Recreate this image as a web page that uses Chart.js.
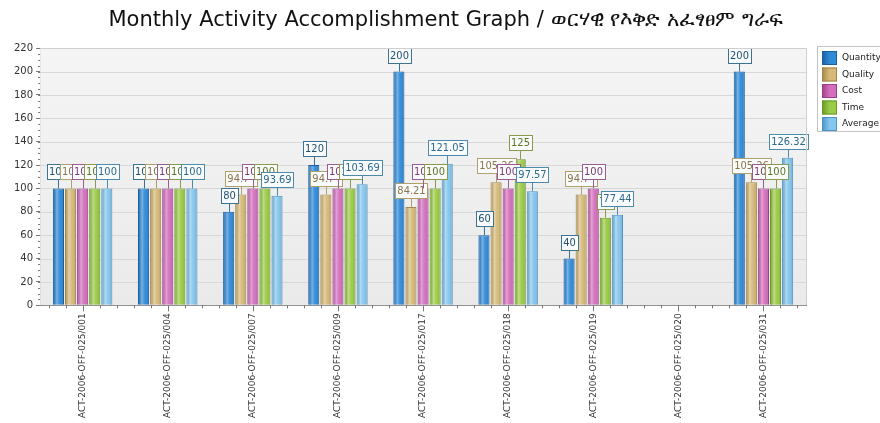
<!DOCTYPE html>
<html>
<head>
<meta charset="utf-8">
<script src="https://cdn.jsdelivr.net/npm/chart.js@4.4.1/dist/chart.umd.min.js"></script>
<style>
html, body { margin: 0; padding: 0; background: #fff; }
#wrap { width: 880px; height: 423px; }
</style>
</head>
<body>
<div id="wrap"><canvas id="accChart"></canvas></div>
<script>
const activities = ['ACT-2006-OFF-025/001', 'ACT-2006-OFF-025/004', 'ACT-2006-OFF-025/007',
    'ACT-2006-OFF-025/009', 'ACT-2006-OFF-025/017', 'ACT-2006-OFF-025/018',
    'ACT-2006-OFF-025/019', 'ACT-2006-OFF-025/020', 'ACT-2006-OFF-025/031'];
const quantity = [100, 100, 80, 120, 200, 60, 40, null, 200];
const quality  = [100, 100, 94.74, 94.74, 84.21, 105.26, 94.74, null, 105.26];
const cost     = [100, 100, 100, 100, 100, 100, 100, null, 100];
const time     = [100, 100, 100, 100, 100, 125, 75, null, 100];
const average  = [100, 100, 93.69, 103.69, 121.05, 97.57, 77.44, null, 126.32];
const seriesNames = ['Quantity', 'Quality', 'Cost', 'Time', 'Average'];
const yTicks = [0, 220, 20];

const fills   = ['#2f8ad8', '#d6b978', '#d46fbe', '#9acb46', '#84c6ee'];
const borders = ['#1b5f9e', '#a48648', '#9c3f8a', '#6a9826', '#4b93c2'];
const boxLine = ['#3b7394', '#b0a06c', '#9a5a92', '#8a9a4a', '#4a8aaa'];
const boxText = ['#21506e', '#8a7648', '#7a3a72', '#5e7420', '#2c6a8c'];

const plotBg = {
    id: 'plotBg',
    beforeDatasetsDraw(chart) {
        const a = chart.chartArea, ctx = chart.ctx;
        ctx.save();
        const g = ctx.createLinearGradient(0, a.top, 0, a.bottom);
        g.addColorStop(0, '#f5f5f5');
        g.addColorStop(1, '#eaeaea');
        ctx.fillStyle = g;
        ctx.fillRect(a.left, a.top, a.right - a.left, a.bottom - a.top);
        const ys = chart.scales.y;
        ctx.strokeStyle = '#d8d8d8';
        ctx.lineWidth = 1;
        for (let v = yTicks[0] + yTicks[2]; v <= yTicks[1]; v += yTicks[2]) {
            const py = Math.round(ys.getPixelForValue(v)) + 0.5;
            ctx.beginPath();
            ctx.moveTo(a.left, py);
            ctx.lineTo(a.right, py);
            ctx.stroke();
        }
        ctx.restore();
    }
};

const barShade = {
    id: 'barShade',
    afterDatasetsDraw(chart) {
        const ctx = chart.ctx;
        ctx.save();
        chart.data.datasets.forEach((ds, d) => {
            chart.getDatasetMeta(d).data.forEach((bar, i) => {
                if (ds.data[i] == null) return;
                const p = bar.getProps(['x', 'y', 'base', 'width'], true);
                const l = p.x - p.width / 2;
                const g = ctx.createLinearGradient(l, 0, l + p.width, 0);
                g.addColorStop(0, 'rgba(0,0,0,0.12)');
                g.addColorStop(0.35, 'rgba(255,255,255,0.35)');
                g.addColorStop(0.6, 'rgba(255,255,255,0.05)');
                g.addColorStop(1, 'rgba(0,0,0,0.15)');
                ctx.fillStyle = g;
                ctx.fillRect(l + 1, p.y + 1, p.width - 2, p.base - p.y - 1);
            });
        });
        ctx.restore();
    }
};

const valueBoxes = {
    id: 'valueBoxes',
    afterDatasetsDraw(chart) {
        const ctx = chart.ctx;
        ctx.save();
        ctx.font = '11px "DejaVu Sans Condensed", "Liberation Sans"';
        ctx.textAlign = 'center';
        ctx.textBaseline = 'middle';
        ctx.lineWidth = 1;
        for (let i = 0; i < activities.length; i++) {
            chart.data.datasets.forEach((ds, d) => {
                const v = ds.data[i];
                if (v == null) return;
                const bar = chart.getDatasetMeta(d).data[i];
                const txt = String(v);
                const w = Math.round(ctx.measureText(txt).width) + 4;
                const h = 15;
                const cy = Math.round(bar.y - 17);
                const x = Math.round(bar.x);
                ctx.strokeStyle = boxLine[d];
                ctx.beginPath();
                ctx.moveTo(x + 0.5, bar.y);
                ctx.lineTo(x + 0.5, cy + h / 2);
                ctx.stroke();
                const bx = Math.round(x - w / 2) + 0.5, by = Math.round(cy - h / 2) + 0.5;
                ctx.fillStyle = '#f9fbfc';
                ctx.fillRect(bx, by, w, h);
                ctx.strokeRect(bx, by, w, h);
                ctx.fillStyle = boxText[d];
                ctx.fillText(txt, x + 0.5, cy + 1);
            });
        }
        ctx.restore();
    }
};

const sideLegend = {
    id: 'sideLegend',
    afterDraw(chart) {
        const ctx = chart.ctx, a = chart.chartArea;
        const left = Math.round(a.right) + 11, top = Math.round(a.top) - 2;
        ctx.save();
        ctx.fillStyle = '#fff';
        ctx.fillRect(left, top, 80, 85);
        ctx.strokeStyle = '#c4c4c4';
        ctx.lineWidth = 1;
        ctx.strokeRect(left + 0.5, top + 0.5, 80, 85);
        ctx.font = '9px "DejaVu Sans"';
        ctx.textBaseline = 'middle';
        seriesNames.forEach((name, d) => {
            const sy = top + 5 + d * 16.5;
            const g = ctx.createLinearGradient(left + 5, 0, left + 20, 0);
            g.addColorStop(0, borders[d]);
            g.addColorStop(0.5, fills[d]);
            g.addColorStop(1, fills[d]);
            ctx.fillStyle = g;
            ctx.fillRect(left + 5, sy, 15, 14);
            ctx.strokeStyle = borders[d];
            ctx.strokeRect(left + 5.5, sy + 0.5, 14, 13);
            ctx.fillStyle = '#222';
            ctx.fillText(name, left + 25, sy + 7);
        });
        // minor ticks on the value axis
        const ys = chart.scales.y;
        ctx.strokeStyle = '#777';
        for (let v = 0; v <= yTicks[1]; v += 5) {
            const py = Math.round(ys.getPixelForValue(v)) + 0.5;
            ctx.beginPath();
            ctx.moveTo(a.left - 2, py);
            ctx.lineTo(a.left, py);
            ctx.stroke();
        }
        // ticks on the category axis, five per category
        const step = (a.right - a.left) / activities.length / 5;
        for (let k = 0; k < activities.length * 5; k++) {
            const px = Math.round(a.left + (k + 0.5) * step) + 0.5;
            ctx.beginPath();
            ctx.moveTo(px, a.bottom);
            ctx.lineTo(px, a.bottom + (k % 5 === 2 ? 6 : 3));
            ctx.stroke();
        }
        // plot frame
        ctx.strokeStyle = '#cfcfcf';
        ctx.beginPath();
        ctx.moveTo(a.left, Math.round(a.top) + 0.5);
        ctx.lineTo(Math.round(a.right) + 0.5, Math.round(a.top) + 0.5);
        ctx.lineTo(Math.round(a.right) + 0.5, a.bottom);
        ctx.stroke();
        ctx.restore();
    }
};

new Chart('accChart', {
    type: 'bar',
    data: {
        labels: activities,
        datasets: [quantity, quality, cost, time, average].map((vals, d) => ({
            label: seriesNames[d],
            data: vals,
            backgroundColor: fills[d],
            borderColor: borders[d],
            borderWidth: 1,
            categoryPercentage: 0.71,
            barPercentage: 0.92
        }))
    },
    options: {
        responsive: true,
        maintainAspectRatio: false,
        animation: false,
        layout: { padding: { left: 11, right: 0, top: 0, bottom: 2 } },
        plugins: {
            title: {
                display: true,
                text: 'Monthly Activity Accomplishment Graph / ወርሃዊ የእቅድ አፈፃፀም ግራፍ',
                color: '#111',
                font: { family: 'DejaVu Sans', size: 21, weight: 'normal' },
                padding: { top: 8, bottom: 15 }
            },
            legend: { display: false },
            tooltip: { enabled: false }
        },
        scales: {
            x: {
                grid: { display: true, drawOnChartArea: false, tickLength: 5, color: 'rgba(0,0,0,0)' },
                border: { color: '#666' },
                ticks: {
                    minRotation: 90,
                    maxRotation: 90,
                    padding: 3,
                    color: '#333',
                    font: { family: 'DejaVu Sans', size: 9 }
                }
            },
            y: {
                min: yTicks[0],
                max: yTicks[1],
                grid: { drawOnChartArea: false, tickLength: 4, color: '#777' },
                border: { color: '#666' },
                ticks: {
                    stepSize: yTicks[2],
                    padding: 3,
                    color: '#333',
                    font: { family: 'DejaVu Sans', size: 10 }
                }
            },
            side: {
                position: 'right',
                grid: { display: false },
                border: { display: false },
                ticks: { display: false },
                afterFit(scale) { scale.width = 74; }
            }
        }
    },
    plugins: [plotBg, barShade, valueBoxes, sideLegend]
});
</script>
</body>
</html>
